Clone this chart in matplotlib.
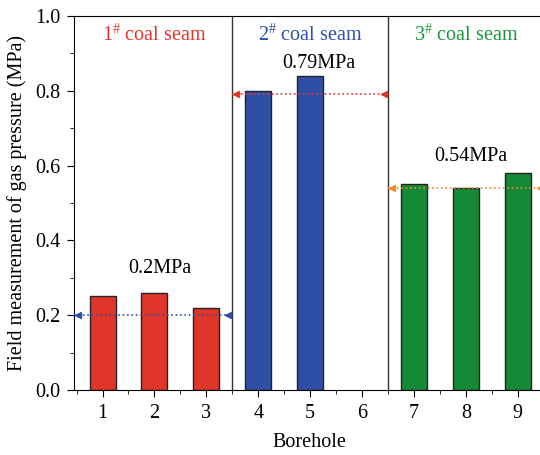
import numpy as np
import matplotlib
matplotlib.use('Agg')
import matplotlib.pyplot as plt
from matplotlib.ticker import MultipleLocator

plt.rcParams['font.family'] = ['Liberation Serif', 'DejaVu Serif']
plt.rcParams['mathtext.fontset'] = 'custom'
plt.rcParams['mathtext.rm'] = 'Liberation Serif'
plt.rcParams['mathtext.it'] = 'Liberation Serif:italic'

# data
boreholes = [1, 2, 3, 4, 5, 6, 7, 8, 9]
seam1_x = [1, 2, 3]
seam1_p = [0.25, 0.26, 0.22]
seam2_x = [4, 5]
seam2_p = [0.80, 0.84]
seam3_x = [7, 8, 9]
seam3_p = [0.55, 0.54, 0.58]
avg_p = [0.2, 0.79, 0.54]
avg_labels = ['0.2MPa', '0.79MPa', '0.54MPa']
seam_names = ['1$^{\\#}$ coal seam', '2$^{\\#}$ coal seam', '3$^{\\#}$ coal seam']
dividers = [3.5, 6.5]

red = '#e0362a'
blue = '#2f4fa6'
green = '#148a36'
orange = '#f28c28'

fig = plt.figure(figsize=(5.4, 4.55), dpi=100)
ax = fig.add_axes([0.137, 0.143, 0.87, 0.822])

w = 0.5
ax.bar(seam1_x, seam1_p, w, color=red, edgecolor='#222222', linewidth=1, zorder=2)
ax.bar(seam2_x, seam2_p, w, color=blue, edgecolor='#222222', linewidth=1, zorder=2)
ax.bar(seam3_x, seam3_p, w, color=green, edgecolor='#222222', linewidth=1, zorder=2)

for d in dividers:
    ax.axvline(d, color='#333333', linewidth=1, zorder=1)

# average lines
xl, xr = 0.45, 9.5
spans = [(xl, 3.5), (3.5, 6.5), (6.5, xr)]
lcols = [blue, red, orange]
for (a, b), p, c in zip(spans, avg_p, lcols):
    ax.plot([a, b], [p, p], linestyle=':', color=c, linewidth=1.2, zorder=3)
    ax.plot([a + 0.08, b - 0.08], [p, p], linestyle='none', marker='<', color=c,
            markersize=5, zorder=4, clip_on=False)

# labels
fs = 14.5
ax.text(2.0, 0.949, seam_names[0], color='#e8332a', fontsize=fs, ha='center', va='center')
ax.text(5.0, 0.949, seam_names[1], color='#3050a8', fontsize=fs, ha='center', va='center')
ax.text(8.0, 0.949, seam_names[2], color='#1a9640', fontsize=fs, ha='center', va='center')
ax.text(2.1, 0.325, avg_labels[0], fontsize=fs, ha='center', va='center')
ax.text(5.17, 0.872, avg_labels[1], fontsize=fs, ha='center', va='center')
ax.text(8.1, 0.625, avg_labels[2], fontsize=fs, ha='center', va='center')

ax.set_xlim(xl, xr)
ax.set_ylim(0, 1.0)
ax.set_xticks(boreholes)
ax.set_xticks(np.arange(0.5, 9.6, 1), minor=True)
ax.yaxis.set_major_locator(MultipleLocator(0.2))
ax.yaxis.set_minor_locator(MultipleLocator(0.1))
ax.yaxis.set_major_formatter(matplotlib.ticker.FormatStrFormatter('%.1f'))
ax.tick_params(which='major', direction='out', length=5, labelsize=fs, pad=5)
ax.tick_params(which='minor', direction='out', length=3)
ax.spines['right'].set_visible(False)

ax.set_xlabel('Borehole', fontsize=fs, labelpad=7)
ax.set_ylabel('Field measurement of gas pressure (MPa)', fontsize=fs, labelpad=6)

fig.savefig('out.png', dpi=100)
